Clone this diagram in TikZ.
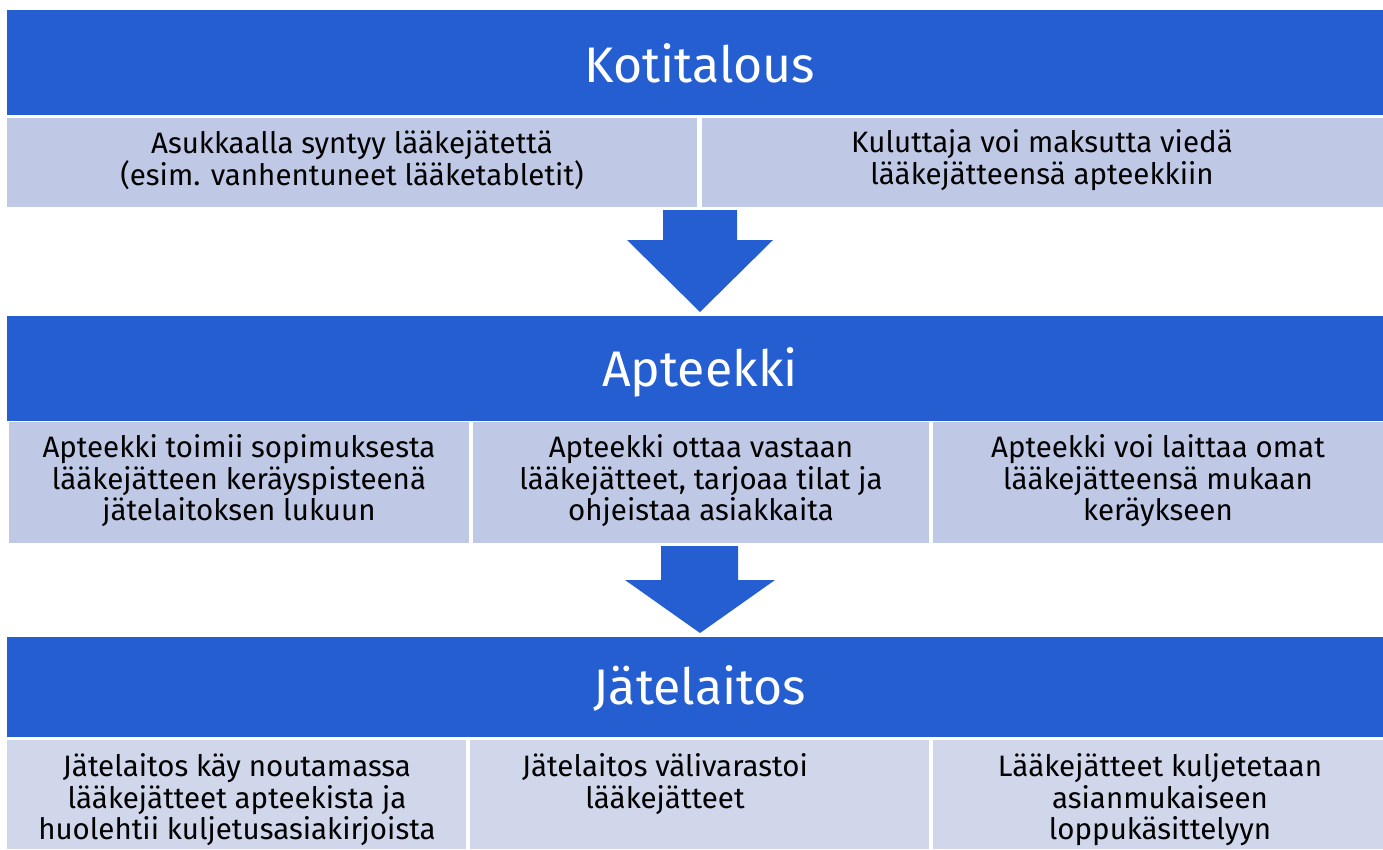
\documentclass[tikz,border=0pt]{standalone}
\usepackage{fontspec}
\setmainfont{Fira Sans}
\definecolor{hdrblue}{RGB}{36,94,209}
\definecolor{cellblue}{RGB}{191,201,230}
\definecolor{cellpale}{RGB}{208,215,235}
\begin{document}
\begin{tikzpicture}[x=1pt, y=-1pt,
  hdr/.style={fill=hdrblue, anchor=north west, inner sep=0, minimum width=1376, minimum height=105},
  hdrtxt/.style={text=white, font=\fontsize{50}{60}\selectfont},
  cell/.style={fill=cellblue, anchor=north west, inner sep=0},
  pale/.style={cell, fill=cellpale},
  txt/.style={align=center, inner sep=0, font=\fontsize{29.5}{31.5}\selectfont}]
\useasboundingbox (0,0) rectangle (1383,849);
% Kotitalous
\node[hdr] (hk) at (7,10){};
\node[hdrtxt] (hkt) at (700,63){Kotitalous};
\node[cell, minimum width=690, minimum height=89] (k1) at (7,118){};
\node[cell, minimum width=681, minimum height=89] (k2) at (702,118){};
\node[txt] (k1t) at (352,160){Asukkaalla syntyy lääkejätettä\\(esim. vanhentuneet lääketabletit)};
\node[txt] (k2t) at (1042,160){Kuluttaja voi maksutta viedä\\lääkejätteensä apteekkiin};
\fill[hdrblue] (663,210) -- (737,210) -- (737,240) -- (773,240) -- (700,312) -- (627,240) -- (663,240) -- cycle;
% Apteekki
\node[hdr] (ha) at (7,316){};
\node[hdrtxt] (hat) at (700,372){Apteekki};
\node[cell, minimum width=460, minimum height=121] (a1) at (9,422){};
\node[cell, minimum width=456, minimum height=121] (a2) at (473,422){};
\node[cell, minimum width=450, minimum height=121] (a3) at (933,422){};
\node[txt] (a1t) at (239,481){Apteekki toimii sopimuksesta\\lääkejätteen keräyspisteenä\\jätelaitoksen lukuun};
\node[txt] (a2t) at (701,481){Apteekki ottaa vastaan\\lääkejätteet, tarjoaa tilat ja\\ohjeistaa asiakkaita};
\node[txt] (a3t) at (1158,481){Apteekki voi laittaa omat\\lääkejätteensä mukaan\\keräykseen};
\fill[hdrblue] (661,546) -- (738,546) -- (738,580) -- (775,580) -- (700,633) -- (625,580) -- (661,580) -- cycle;
% Jätelaitos
\node[hdr, minimum height=100] (hj) at (7,637){};
\node[hdrtxt] (hjt) at (700,688){Jätelaitos};
\node[pale, minimum width=459, minimum height=109] (j1) at (7,740){};
\node[pale, minimum width=459, minimum height=109] (j2) at (470,740){};
\node[pale, minimum width=450, minimum height=109] (j3) at (933,740){};
\node[txt] (j1t) at (237,800){Jätelaitos käy noutamassa\\lääkejätteet apteekista ja\\huolehtii kuljetusasiakirjoista};
\node[txt] (j2t) at (665,784){Jätelaitos välivarastoi\\lääkejätteet};
\node[txt] (j3t) at (1160,800){Lääkejätteet kuljetetaan\\asianmukaiseen\\loppukäsittelyyn};
\end{tikzpicture}
\end{document}
